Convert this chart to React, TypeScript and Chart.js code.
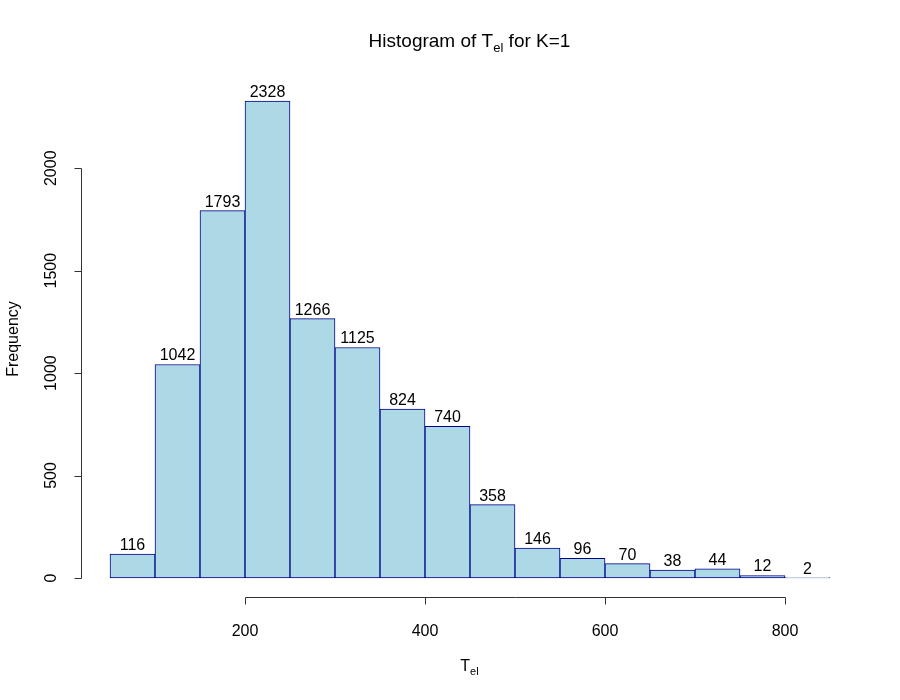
import React, { useEffect, useRef } from "react";
import { Chart, registerables } from "chart.js";

Chart.register(...registerables);

const binStarts = [50, 100, 150, 200, 250, 300, 350, 400, 450, 500, 550, 600, 650, 700, 750, 800];
const binWidth = 50;
const counts = [116, 1042, 1793, 2328, 1266, 1125, 824, 740, 358, 146, 96, 70, 38, 44, 12, 2];
const xTicks = [200, 400, 600, 800];
const yTicks = [0, 500, 1000, 1500, 2000];

const FONT = '"Liberation Sans", Arial, Helvetica, sans-serif';

const rStyle = {
  id: "rStyle",
  afterDatasetsDraw(chart: any) {
    const ctx = chart.ctx as CanvasRenderingContext2D;
    const xs = chart.scales.x;
    const ys = chart.scales.y;
    ctx.save();
    // bar labels
    ctx.fillStyle = "#000";
    ctx.font = `16px ${FONT}`;
    ctx.textAlign = "center";
    ctx.textBaseline = "alphabetic";
    counts.forEach((c, i) => {
      const xm = xs.getPixelForValue(binStarts[i] + binWidth / 2);
      const yp = ys.getPixelForValue(c);
      ctx.fillText(String(c), xm, yp - 4);
    });
    // axes
    ctx.strokeStyle = "#333";
    ctx.lineWidth = 1;
    const axY = chart.chartArea.bottom + 0.5;
    const x0 = Math.round(xs.getPixelForValue(xTicks[0])) + 0.5;
    const x1 = Math.round(xs.getPixelForValue(xTicks[xTicks.length - 1])) + 0.5;
    ctx.beginPath();
    ctx.moveTo(x0, axY);
    ctx.lineTo(x1, axY);
    xTicks.forEach((t) => {
      const px = Math.round(xs.getPixelForValue(t)) + 0.5;
      ctx.moveTo(px, axY);
      ctx.lineTo(px, axY + 7);
    });
    const axX = chart.chartArea.left + 0.5;
    const y0 = Math.round(ys.getPixelForValue(yTicks[0])) + 0.5;
    const y1 = Math.round(ys.getPixelForValue(yTicks[yTicks.length - 1])) + 0.5;
    ctx.moveTo(axX, y0);
    ctx.lineTo(axX, y1);
    yTicks.forEach((t) => {
      const py = Math.round(ys.getPixelForValue(t)) + 0.5;
      ctx.moveTo(axX, py);
      ctx.lineTo(axX - 7, py);
    });
    ctx.stroke();
    // x tick labels
    ctx.fillStyle = "#000";
    ctx.font = `16px ${FONT}`;
    ctx.textAlign = "center";
    ctx.textBaseline = "middle";
    xTicks.forEach((t) => {
      ctx.fillText(String(t), xs.getPixelForValue(t), 632);
    });
    // y tick labels rotated
    yTicks.forEach((t) => {
      ctx.save();
      ctx.translate(52, ys.getPixelForValue(t));
      ctx.rotate(-Math.PI / 2);
      ctx.fillText(String(t), 0, 0);
      ctx.restore();
    });
    // y axis title
    ctx.save();
    ctx.translate(14, 339);
    ctx.rotate(-Math.PI / 2);
    ctx.fillText("Frequency", 0, 0);
    ctx.restore();

    // subscript text helper
    const drawSub = (pre: string, sub: string, post: string, cx: number, cy: number, size: number) => {
      const subSize = Math.round(size * 0.7);
      ctx.font = `${size}px ${FONT}`;
      const w1 = ctx.measureText(pre).width;
      const w3 = ctx.measureText(post).width;
      ctx.font = `${subSize}px ${FONT}`;
      const w2 = ctx.measureText(sub).width;
      let x = cx - (w1 + w2 + w3) / 2;
      ctx.textAlign = "left";
      ctx.textBaseline = "alphabetic";
      ctx.font = `${size}px ${FONT}`;
      ctx.fillText(pre, x, cy);
      x += w1;
      ctx.font = `${subSize}px ${FONT}`;
      ctx.fillText(sub, x, cy + size * 0.25);
      x += w2;
      ctx.font = `${size}px ${FONT}`;
      ctx.fillText(post, x, cy);
    };
    drawSub("Histogram of T", "el", " for K=1", 469.5, 47, 19);
    drawSub("T", "el", "", 469.5, 671, 16);
    ctx.restore();
  },
};

export default function App() {
  const ref = useRef<HTMLCanvasElement | null>(null);
  useEffect(() => {
    if (!ref.current) return;
    const xMin = 50 - 29 / 0.9;
    const xMax = xMin + 777 / 0.9;
    const chart = new Chart(ref.current, {
      type: "bar",
      data: {
        datasets: [
          {
            data: counts.map((c, i) => ({ x: binStarts[i] + binWidth / 2, y: c })),
            backgroundColor: "#ADD8E6",
            borderColor: "#00008B",
            borderWidth: 1,
            barPercentage: 1,
            categoryPercentage: 1,
            borderSkipped: false,
          },
        ],
      },
      options: {
        responsive: false,
        animation: false,
        layout: { padding: { left: 81, right: 42, top: 82, bottom: 103 } },
        plugins: { legend: { display: false }, tooltip: { enabled: false }, title: { display: false } },
        scales: {
          x: { type: "linear", display: false, min: xMin, max: xMax, offset: false },
          y: { type: "linear", display: false, min: -93.12, max: 2421.12 },
        },
      },
      plugins: [rStyle],
    });
    return () => chart.destroy();
  }, []);
  return (
    <div style={{ position: "absolute", left: 0, top: 0, width: 900, height: 700, background: "#fff" }}>
      <canvas ref={ref} width={900} height={700} />
    </div>
  );
}
